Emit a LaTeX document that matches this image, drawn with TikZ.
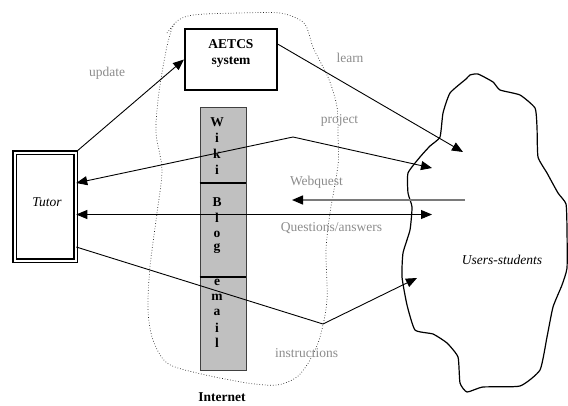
\documentclass[tikz,border=0pt]{standalone}
\usepackage{fontspec}
\setmainfont{Liberation Serif}
\usetikzlibrary{arrows.meta}
\definecolor{labelgray}{HTML}{8C8C8C}
\definecolor{colfill}{HTML}{C0C0C0}
\definecolor{coledge}{HTML}{404040}
\definecolor{wqgray}{HTML}{7A7A7A}
\begin{document}
\begin{tikzpicture}[x=1pt,y=-1pt,
  every node/.style={font=\fontsize{13.5}{16}\selectfont},
  lbl/.style={text=labelgray},
  conn/.style={line width=0.9pt,draw=black},
  tip/.style={-{Triangle[length=11pt,width=9pt]}},
  dtip/.style={{Triangle[length=11pt,width=9pt]}-{Triangle[length=11pt,width=9pt]}},
  colbox/.style={draw=coledge,fill=colfill,line width=0.8pt,minimum width=46pt,inner sep=0pt},
  letter/.style={font=\fontsize{13.5}{16}\selectfont\bfseries,inner sep=0pt}]
\useasboundingbox (0,0) rectangle (568,405);

% Internet dotted cloud
\draw[dotted,line width=0.7pt,draw=black!85] plot[smooth cycle,tension=0.5] coordinates {
  (175,23) (193,15) (240,13) (280,13) (300,20) (307,28) (313,47) (323,67) (330,82) (337,107)
  (338,135) (338,165) (330,213) (326,250) (327,300) (320,337) (310,360) (297,377) (277,385)
  (247,383) (197,373) (167,363) (153,340) (148,310) (150,267) (157,213) (162,170) (156,133)
  (158,100) (163,67) (168,42)};
\draw[dotted,line width=0.7pt,draw=black!85] (167,33) -- (174,24);

% Users cloud
\draw[line width=1.2pt] plot[smooth cycle,tension=0.3] coordinates {
  (470,75) (478,74) (493,82) (500,90) (520,95) (535,108) (537,127) (538,157) (547,173)
  (558,193) (566,204) (567,230) (567,268) (562,285) (553,307) (547,337) (540,370) (520,386)
  (483,387) (467,392) (460,383) (458,357) (447,343) (433,334) (415,330) (407,305) (402,277)
  (403,253) (410,230) (412,207) (408,193) (408,173) (420,157) (430,146) (440,137) (443,113)
  (450,93) (466,79)};
\node[font=\fontsize{13.5}{16}\selectfont\itshape] (users) at (502,260) {Users-students};

% Tutor
\node[draw,line width=1.5pt,double,double distance=2pt,minimum width=61pt,minimum height=108pt,
  inner sep=0pt] (tutor) at (45,206.5) {};
\node[font=\fontsize{13.5}{16}\selectfont\itshape] (tutortext) at (47,202) {Tutor};

% AETCS
\node[draw,line width=2.3pt,minimum width=91.7pt,minimum height=60.7pt,inner sep=0pt] (aetcs) at (231,59.5) {};
\node[align=center,font=\fontsize{13.5}{16}\selectfont\bfseries,inner sep=0pt] (aetcstext) at (231,53) {AETCS\\system};

% Column
\node[colbox,minimum height=76pt] (wiki) at (223,145) {};
\node[colbox,minimum height=94pt] (blog) at (223,230) {};
\node[colbox,minimum height=93pt] (email) at (223,323.5) {};
\foreach \ch/\yy [count=\i] in {W/122,i/137.5,k/154,i/170,B/202,l/218,o/234,g/249,e/282,m/297,a/312,i/328,l/343}
  \node[letter] (ch\i) at (217,\yy) {\ch};
\draw[line width=2pt] (wiki.south west) -- (wiki.south east);
\draw[line width=2pt] (blog.south west) -- (blog.south east);

\node[font=\fontsize{13.5}{16}\selectfont\bfseries] (internet) at (222,397.5) {Internet};

% Coordinates
\coordinate (learnend) at (463,152);
\coordinate (projapex) at (293,137);
\coordinate (projend) at (432,168);
\coordinate (wqstart) at (465,200);
\coordinate (wqend) at (292,200);
\coordinate (qaend) at (432,214.5);
\coordinate (insapex) at (323,324);
\coordinate (insend) at (417,278);

% Connectors
\draw[conn,tip] (tutor.north east) -- (aetcs.west);
\draw[conn,tip] (aetcs.18) -- (learnend);
\draw[conn,dtip] ([yshift=23.5pt]tutor.east) -- (projapex) -- (projend);
\draw[line width=1.4pt,draw=wqgray,-{Triangle[length=11pt,width=9pt,fill=black,color=black]}] (wqstart) -- (wqend);
\draw[conn,dtip] ([yshift=-8pt]tutor.east) -- (qaend);
\draw[conn,tip] ([yshift=-40.5pt]tutor.east) -- (insapex) -- (insend);

% Labels
\node[lbl] (lupdate) at (107,73) {update};
\node[lbl] (llearn) at (350,58) {learn};
\node[lbl] (lproject) at (339.5,120) {project};
\node[lbl] (lwq) at (316.5,182) {Webquest};
\node[lbl] (lqa) at (331.5,228) {Questions/answers};
\node[lbl] (lins) at (306.5,353) {instructions};
\end{tikzpicture}
\end{document}
